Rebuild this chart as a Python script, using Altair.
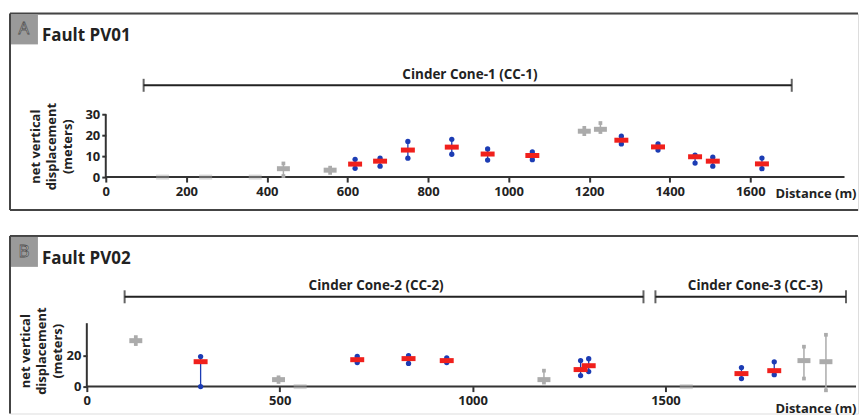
import altair as alt
import pandas as pd

FONT = "Open Sans"
W = 850

# ---------------- Panel A : Fault PV01 ----------------
a_dist = [141, 248, 371, 441, 557, 619, 681, 750, 859, 948, 1059, 1188, 1228, 1280, 1371, 1463, 1507, 1629]
a_mean = [0, 0, 0, 4.0, 3.3, 6.2, 7.6, 12.9, 14.3, 11.0, 10.3, 21.9, 22.8, 17.6, 14.4, 9.7, 7.6, 6.3]
a_lo = [0, 0, 0, 0.5, 2.0, 4.2, 5.2, 9.0, 10.9, 8.1, 8.3, 20.5, 21.5, 15.8, 12.9, 6.7, 5.2, 4.0]
a_hi = [0, 0, 0, 6.5, 4.5, 8.5, 9.0, 17.0, 18.0, 13.4, 12.0, 23.5, 25.8, 19.5, 15.8, 10.5, 9.5, 9.1]
a_kind = ["est"] * 5 + ["meas"] * 6 + ["est"] * 2 + ["meas"] * 5
a_cones = ["Cinder Cone-1 (CC-1)"]
a_cone_start = [94]
a_cone_end = [1703]
a_cone_label = [904]
a_xticks = [0, 200, 400, 600, 800, 1000, 1200, 1400, 1600]
a_yticks = [0, 10, 20, 30]
a_axis_end = [1834, 30]

# ---------------- Panel B : Fault PV02 ----------------
b_dist = [127, 295, 497, 553, 701, 834, 933, 1185, 1280, 1301, 1554, 1697, 1782, 1859, 1916]
b_mean = [29.7, 16.1, 4.5, 0, 17.4, 18.1, 16.8, 4.5, 11.0, 13.5, 0, 8.4, 10.3, 16.8, 16.1]
b_lo = [27.5, 0, 3.0, 0, 15.5, 15.0, 15.5, 2.6, 7.1, 9.7, 0, 5.2, 7.7, 5.2, -2.4]
b_hi = [32.0, 19.4, 6.0, 0, 19.5, 20.0, 18.5, 10.3, 16.8, 18.0, 0, 12.3, 16.0, 25.8, 33.5]
b_kind = ["est", "meas", "est", "est", "meas", "meas", "meas", "est", "meas", "meas", "est",
          "meas", "meas", "est", "est"]
b_cones = ["Cinder Cone-2 (CC-2)", "Cinder Cone-3 (CC-3)"]
b_cone_start = [98, 1474]
b_cone_end = [1443, 1968]
b_cone_label = [750, 1733]
b_xticks = [0, 500, 1000, 1500]
b_yticks = [0, 20]
b_axis_end = [1994, 41]

YTITLE = ["net vertical", "displacement", "(meters)"]
RED = "#f0201c"
BLUE = "#1c3cb4"
GREY = "#ababab"
INK = "#222222"
FRAME = "#444444"


def make_panel(letter, title, dist, mean, lo, hi, kind, cones, cstart, cend, clabel,
               xticks, yticks, axis_end, H, x0, kx, y0, ky, ytx, yty, bracket_py,
               label_py, xty, bottom_frame):
    df = pd.DataFrame({"dist": dist, "mean": mean, "lo": lo, "hi": hi, "kind": kind})
    cdf = pd.DataFrame({"cone": cones, "start": cstart, "end": cend, "mid": clabel})
    adf = pd.DataFrame({"x": [0], "xe": [axis_end[0]], "y": [0], "ye": [axis_end[1]]})
    one = pd.DataFrame({"k": [0]})

    xs = alt.Scale(domain=[-x0 / kx, (W - x0) / kx], nice=False, zero=False)
    ys = alt.Scale(domain=[-(H - y0) / ky, y0 / ky], nice=False, zero=False)
    xaxis = alt.Axis(values=xticks, format="d", offset=-(H - y0), domain=False, grid=False,
                     tickSize=5, tickWidth=2, tickColor="#333",
                     labelFont=FONT, labelFontSize=13, labelFontWeight="bold",
                     labelColor=INK, labelPadding=3, labelFlush=False, labelOverlap=False,
                     title="Distance (m)", titleFont=FONT, titleFontSize=13,
                     titleFontWeight="bold", titleColor=INK, titleX=W - 2, titleY=xty,
                     titleAlign="right", titleBaseline="middle")
    yaxis = alt.Axis(values=yticks, format="d", offset=-x0, domain=False, grid=False,
                     tickSize=4, tickWidth=2, tickColor="#333",
                     labelFont=FONT, labelFontSize=13, labelFontWeight="bold",
                     labelColor=INK, labelPadding=2, labelFlush=False, labelOverlap=False,
                     title=YTITLE, titleFont=FONT, titleFontSize=13, titleFontWeight="bold",
                     titleColor=INK, titleX=ytx, titleY=yty, titleAngle=270,
                     titleAlign="center", titleBaseline="middle", titleLineHeight=16)

    def X(f):
        return alt.X(f, type="quantitative", scale=xs, axis=xaxis)

    def Y(f):
        return alt.Y(f, type="quantitative", scale=ys, axis=yaxis)

    layers = []
    # frame
    layers.append(alt.Chart(one).mark_rule(color=FRAME, strokeWidth=2).encode(
        x=alt.value(0), x2=alt.value(W), y=alt.value(0)))
    layers.append(alt.Chart(one).mark_rule(color=FRAME, strokeWidth=2).encode(
        x=alt.value(0), y=alt.value(0), y2=alt.value(H)))
    if bottom_frame:
        layers.append(alt.Chart(one).mark_rule(color=FRAME, strokeWidth=2).encode(
            x=alt.value(0), x2=alt.value(W), y=alt.value(H)))
    # letter box
    layers.append(alt.Chart(one).mark_rect(color="#9a9a9a").encode(
        x=alt.value(1), x2=alt.value(28), y=alt.value(1), y2=alt.value(31)))
    layers.append(alt.Chart(one).mark_text(
        text=letter, font=FONT, fontSize=17, fontWeight="normal", fill="#e4e4e4",
        stroke="#505050", strokeWidth=0.8, align="center", baseline="middle").encode(
        x=alt.value(14), y=alt.value(16)))
    layers.append(alt.Chart(one).mark_text(
        text=title, font=FONT, fontSize=17, fontWeight="bold", color=INK,
        align="left", baseline="alphabetic").encode(x=alt.value(32), y=alt.value(28)))
    # brackets
    layers.append(alt.Chart(cdf).mark_rule(color=INK, strokeWidth=2).encode(
        x=X("start"), x2="end", y=alt.value(bracket_py)))
    layers.append(alt.Chart(cdf).mark_tick(color=INK, orient="vertical", size=13,
                                           thickness=2).encode(
        x=X("start"), y=alt.value(bracket_py)))
    layers.append(alt.Chart(cdf).mark_tick(color=INK, orient="vertical", size=13,
                                           thickness=2).encode(
        x=X("end"), y=alt.value(bracket_py)))
    layers.append(alt.Chart(cdf).mark_text(font=FONT, fontSize=13.5, fontWeight="bold",
                                           color=INK, baseline="middle").encode(
        x=X("mid"), y=alt.value(label_py), text="cone"))
    # axis lines
    layers.append(alt.Chart(adf).mark_rule(color="#333", strokeWidth=2).encode(
        x=X("x"), x2="xe", y=Y("y")))
    layers.append(alt.Chart(adf).mark_rule(color="#333", strokeWidth=2).encode(
        x=X("x"), y=Y("y"), y2="ye"))
    # estimated (grey)
    est = alt.Chart(df).transform_filter("datum.kind == 'est'")
    layers.append(est.mark_rule(color=GREY, strokeWidth=1.5).encode(
        x=X("dist"), y=Y("lo"), y2="hi"))
    layers.append(est.transform_filter("datum.lo != datum.hi").mark_square(
        color=GREY, size=14, opacity=1).encode(x=X("dist"), y=Y("lo")))
    layers.append(est.transform_filter("datum.lo != datum.hi").mark_square(
        color=GREY, size=14, opacity=1).encode(x=X("dist"), y=Y("hi")))
    layers.append(est.mark_tick(color=GREY, orient="horizontal", size=13, thickness=5).encode(
        x=X("dist"), y=Y("mean"),
        opacity=alt.condition("datum.hi == datum.lo", alt.value(0.45), alt.value(1))))
    # measured (blue range, red mean)
    meas = alt.Chart(df).transform_filter("datum.kind == 'meas'")
    layers.append(meas.mark_rule(color=BLUE, strokeWidth=1.3).encode(
        x=X("dist"), y=Y("lo"), y2="hi"))
    layers.append(meas.mark_circle(color=BLUE, size=28, opacity=1).encode(
        x=X("dist"), y=Y("lo")))
    layers.append(meas.mark_circle(color=BLUE, size=28, opacity=1).encode(
        x=X("dist"), y=Y("hi")))
    layers.append(meas.mark_tick(color=RED, orient="horizontal", size=14, thickness=5,
                                 opacity=1).encode(x=X("dist"), y=Y("mean")))

    return alt.layer(*layers).properties(width=W, height=H)


panel_a = make_panel("A", "Fault PV01", a_dist, a_mean, a_lo, a_hi, a_kind,
                     a_cones, a_cone_start, a_cone_end, a_cone_label,
                     a_xticks, a_yticks, a_axis_end,
                     H=197, x0=96, kx=0.40375, y0=164, ky=2.1,
                     ytx=-70, yty=133, bracket_py=72, label_py=62, xty=16,
                     bottom_frame=True)

panel_b = make_panel("B", "Fault PV02", b_dist, b_mean, b_lo, b_hi, b_kind,
                     b_cones, b_cone_start, b_cone_end, b_cone_label,
                     b_xticks, b_yticks, b_axis_end,
                     H=178, x0=77, kx=0.38667, y0=151, ky=1.55,
                     ytx=-61, yty=115, bracket_py=61, label_py=50, xty=22,
                     bottom_frame=False)

chart = alt.vconcat(panel_a, panel_b, spacing=22).properties(
    padding={"left": 0, "top": 3, "right": 0, "bottom": 0}
).configure_view(stroke=None).configure(background="white")

chart.save("out.html", embed_options={"renderer": "svg", "actions": False})
